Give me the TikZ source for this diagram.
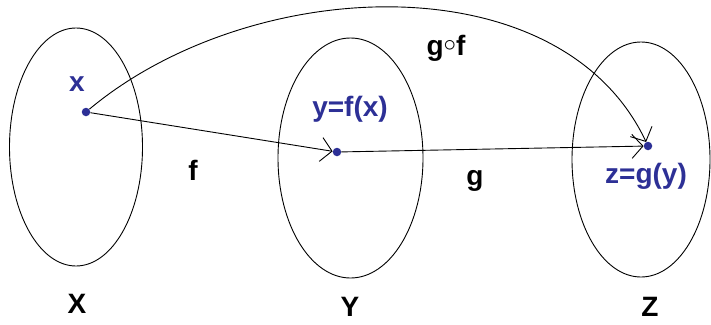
\documentclass[tikz,border=0pt]{standalone}
\usepackage{fontspec}
\setmainfont{Liberation Sans}
\usetikzlibrary{shapes.geometric,arrows.meta}
\definecolor{ptblue}{RGB}{45,48,150}
\begin{document}
\begin{tikzpicture}[x=1pt,y=-1pt,
  setell/.style={draw=black,line width=0.9pt,ellipse,inner sep=0pt},
  dot/.style={circle,fill=ptblue,inner sep=0pt,minimum size=8.5pt},
  arr/.style={line width=0.9pt,-{Straight Barb[length=11pt,width=24pt,line width=0.9pt]}},
  lbl/.style={font=\fontsize{28}{30}\selectfont\bfseries,anchor=base,inner sep=0pt},
  blbl/.style={lbl,text=ptblue}]
\useasboundingbox[fill=white] (0,0) rectangle (711,324);
\node[setell,minimum width=133pt,minimum height=238pt] (EX) at (76,147) {};
\node[setell,minimum width=145pt,minimum height=240pt] (EY) at (350.5,158) {};
\node[setell,minimum width=138pt,minimum height=235pt] (EZ) at (641,159.5) {};
\node[dot] (px) at (86,112) {};
\node[dot] (py) at (337,152) {};
\node[dot] (pz) at (648,146) {};
\node[blbl] (lx) at (77,91) {x};
\node[blbl] (ly) at (350,116) {y=f(x)};
\node[blbl] (lz) at (646,183) {z=g(y)};
\node[lbl] (lf) at (193,180) {f};
\node[lbl] (lg) at (475,185) {g};
\node[lbl] (lgf) at (446,55) {g\raisebox{4pt}{\fontsize{24}{26}\selectfont$\circ$}f};
\node[lbl] (lX) at (77,313) {X};
\node[lbl] (lY) at (350,316) {Y};
\node[lbl] (lZ) at (650,316) {Z};
\draw[arr] (px) -- (py);
\draw[arr] (py) -- (pz);
\draw[arr] (px) .. controls (250,-25) and (560,-40) .. (pz);
\end{tikzpicture}
\end{document}
